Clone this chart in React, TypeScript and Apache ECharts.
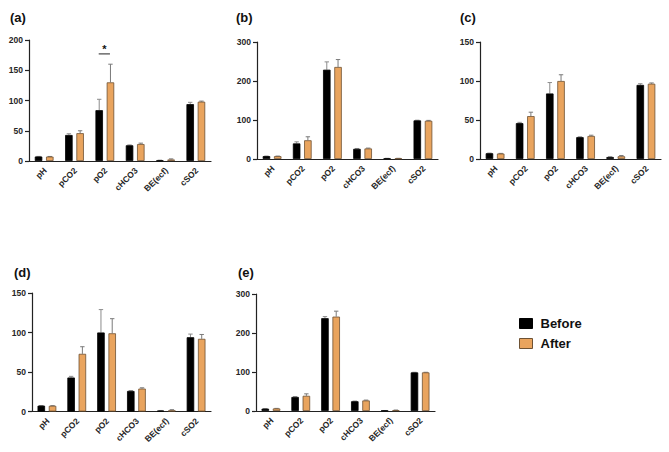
import React, { useEffect, useRef } from "react";
import * as echarts from "echarts";

const categories = ["pH", "pCO2", "pO2", "cHCO3", "BE(ecf)", "cSO2"];
const panelLabels = ["(a)", "(b)", "(c)", "(d)", "(e)"];
const seriesNames = ["Before", "After"];

// panel a
const aBefore = [7.4, 43, 84, 26, 1, 94];
const aBeforeErr = [0.2, 2, 18, 0.6, 0.4, 3];
const aAfter = [7.3, 46, 130, 28, 2.5, 98];
const aAfterErr = [0.2, 4, 30, 1.5, 1, 1];
// panel b
const bBefore = [7.4, 40, 229, 26, 1.5, 99];
const bBeforeErr = [0.2, 4, 20, 1, 0.3, 0.5];
const bAfter = [7.3, 48, 236, 27, 1.5, 98];
const bAfterErr = [0.2, 9, 19, 1, 0.3, 1];
// panel c
const cBefore = [7.4, 46, 84, 28, 2.5, 95];
const cBeforeErr = [0.2, 1, 14, 0.5, 0.5, 1.5];
const cAfter = [7.0, 55, 100, 29.5, 3.5, 96.5];
const cAfterErr = [0.2, 5, 8, 1, 1, 1];
// panel d
const dBefore = [7.4, 43, 100, 26, 1, 94];
const dBeforeErr = [0.2, 1.5, 29, 0.5, 0.3, 4];
const dAfter = [7.2, 73, 99, 29, 1.5, 92];
const dAfterErr = [0.2, 9, 18.5, 1, 0.8, 5.5];
// panel e
const eBefore = [6, 36, 238, 25, 1, 99];
const eBeforeErr = [0.2, 1, 4, 0.5, 0.3, 0.3];
const eAfter = [6.5, 39, 242, 27, 2, 99];
const eAfterErr = [0.2, 5, 14, 1, 0.5, 0.3];

const yMax = [200, 300, 150, 150, 300];
const yInterval = [50, 100, 50, 50, 100];

// significance marker (panel a): category index, level
const sigMarks = [[2, 177]];

const panels = [
  { before: aBefore, beforeErr: aBeforeErr, after: aAfter, afterErr: aAfterErr },
  { before: bBefore, beforeErr: bBeforeErr, after: bAfter, afterErr: bAfterErr },
  { before: cBefore, beforeErr: cBeforeErr, after: cAfter, afterErr: cAfterErr },
  { before: dBefore, beforeErr: dBeforeErr, after: dAfter, afterErr: dAfterErr },
  { before: eBefore, beforeErr: eBeforeErr, after: eAfter, afterErr: eAfterErr },
];

const grids = [
  { left: 29, top: 40, width: 182, height: 121 },
  { left: 257, top: 42, width: 181, height: 117 },
  { left: 480, top: 42, width: 181, height: 117 },
  { left: 32, top: 293, width: 179, height: 118.5 },
  { left: 256, top: 294, width: 179, height: 117 },
];
const titlePos = [
  { left: 10, top: 11 },
  { left: 236, top: 11 },
  { left: 460, top: 11 },
  { left: 14, top: 266 },
  { left: 238, top: 266 },
];

const BAR_W = 7.5;
const GAP = "50%";
const OFFSET = (BAR_W + BAR_W * 0.5) / 2;
const BLACK = "#000000";
const ORANGE = "#E9A45E";
const ORANGE_BORDER = "#6e5234";
const FONT = "Liberation Sans, Arial, Helvetica, sans-serif";

function errRenderer(sign: number, color: string) {
  return (params: any, api: any) => {
    const cat = api.value(0);
    const mean = api.value(1);
    const hi = api.value(2);
    const p0 = api.coord([cat, mean]);
    const p1 = api.coord([cat, hi]);
    const x = p0[0] + sign * OFFSET;
    return {
      type: "group",
      children: [
        {
          type: "line",
          shape: { x1: x, y1: p0[1], x2: x, y2: p1[1] },
          style: { stroke: color, lineWidth: 1 },
        },
        {
          type: "line",
          shape: { x1: x - 2.2, y1: p1[1], x2: x + 2.2, y2: p1[1] },
          style: { stroke: color, lineWidth: 1 },
        },
      ],
    };
  };
}

function labelRenderer(params: any, api: any) {
  const cat = api.value(0);
  const p = api.coord([cat, 0]);
  return {
    type: "text",
    x: p[0] + 1,
    y: p[1] + 8,
    rotation: Math.PI / 4,
    style: {
      text: categories[cat],
      fill: "#262626",
      font: `bold 8.5px ${FONT}`,
      align: "right",
      verticalAlign: "middle",
    },
  };
}

function sigRenderer(params: any, api: any) {
  const cat = api.value(0);
  const lvl = api.value(1);
  const p = api.coord([cat, lvl]);
  return {
    type: "group",
    children: [
      {
        type: "line",
        shape: { x1: p[0] - OFFSET - 0.5, y1: p[1], x2: p[0] + OFFSET - 0.5, y2: p[1] },
        style: { stroke: "#222", lineWidth: 1 },
      },
      {
        type: "text",
        x: p[0] - 0.5,
        y: p[1] - 5,
        style: {
          text: "*",
          fill: "#111",
          font: `bold 11px ${FONT}`,
          align: "center",
          verticalAlign: "middle",
        },
      },
    ],
  };
}

export default function App() {
  const ref = useRef<HTMLDivElement>(null);
  useEffect(() => {
    if (!ref.current) return;
    const chart = echarts.init(ref.current, null, { renderer: "svg" });
    const xAxis: any[] = [];
    const yAxis: any[] = [];
    const series: any[] = [];
    panels.forEach((p, i) => {
      xAxis.push({
        type: "category",
        gridIndex: i,
        data: categories,
        axisLine: { lineStyle: { color: "#222", width: 1.2 } },
        axisTick: { alignWithLabel: true, length: 3.5, lineStyle: { color: "#222", width: 1.2 } },
        axisLabel: { show: false },
      });
      yAxis.push({
        type: "value",
        gridIndex: i,
        min: 0,
        max: yMax[i],
        interval: yInterval[i],
        splitLine: { show: false },
        axisLine: { show: true, lineStyle: { color: "#222", width: 1.2 } },
        axisTick: { show: true, length: 4, lineStyle: { color: "#222", width: 1.2 } },
        axisLabel: {
          margin: 6,
          fontSize: 8.5,
          fontWeight: "bold",
          fontFamily: FONT,
          color: "#262626",
        },
      });
      series.push({
        type: "bar",
        name: seriesNames[0],
        xAxisIndex: i,
        yAxisIndex: i,
        data: p.before,
        barWidth: BAR_W,
        barGap: GAP,
        itemStyle: { color: BLACK, borderColor: BLACK, borderWidth: 0.8 },
      });
      series.push({
        type: "bar",
        name: seriesNames[1],
        xAxisIndex: i,
        yAxisIndex: i,
        data: p.after,
        barWidth: BAR_W,
        barGap: GAP,
        itemStyle: { color: ORANGE, borderColor: ORANGE_BORDER, borderWidth: 0.8 },
      });
      series.push({
        type: "custom",
        xAxisIndex: i,
        yAxisIndex: i,
        renderItem: errRenderer(-1, "#8c8c8c"),
        data: p.before.map((v, k) => [k, v, v + p.beforeErr[k]]),
        z: 1,
        silent: true,
      });
      series.push({
        type: "custom",
        xAxisIndex: i,
        yAxisIndex: i,
        renderItem: errRenderer(1, "#7a7a7a"),
        data: p.after.map((v, k) => [k, v, v + p.afterErr[k]]),
        z: 1,
        silent: true,
      });
      series.push({
        type: "custom",
        xAxisIndex: i,
        yAxisIndex: i,
        renderItem: labelRenderer,
        clip: false,
        data: categories.map((c, k) => [k, 0]),
        silent: true,
      });
    });
    series.push({
      type: "custom",
      xAxisIndex: 0,
      yAxisIndex: 0,
      renderItem: sigRenderer,
      data: sigMarks,
      silent: true,
    });

    chart.setOption({
      animation: false,
      backgroundColor: "#ffffff",
      title: panelLabels.map((t, i) => ({
        text: t,
        left: titlePos[i].left,
        top: titlePos[i].top,
        padding: 0,
        textStyle: { fontSize: 13, fontWeight: "bold", fontFamily: FONT, color: "#111" },
      })),
      legend: {
        orient: "vertical",
        left: 519,
        top: 317,
        itemWidth: 13,
        itemHeight: 10,
        itemGap: 7,
        padding: 0,
        data: [
          { name: "Before", icon: "rect", itemStyle: { color: BLACK, borderColor: BLACK, borderWidth: 1 } },
          { name: "After", icon: "rect", itemStyle: { color: ORANGE, borderColor: ORANGE_BORDER, borderWidth: 1 } },
        ],
        textStyle: { fontSize: 13, fontWeight: "bold", fontFamily: FONT, color: "#111", padding: [0, 0, 0, 3] },
      },
      grid: grids,
      xAxis,
      yAxis,
      series,
    });
    return () => chart.dispose();
  }, []);
  return (
    <div
      ref={ref}
      style={{ position: "absolute", left: 0, top: 0, width: 669, height: 452, background: "#fff" }}
    />
  );
}
